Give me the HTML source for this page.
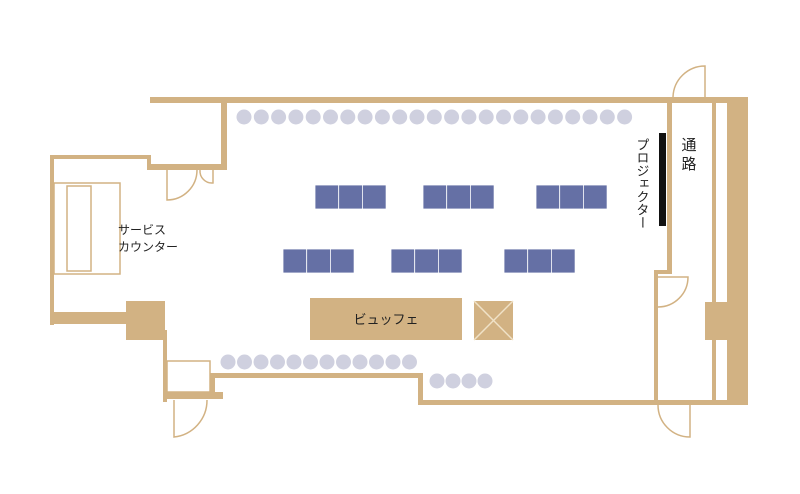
<!DOCTYPE html>
<html><head><meta charset="utf-8"><style>
body{margin:0;background:#fff}
svg{display:block}
text{font-family:"Liberation Sans","Noto Sans CJK JP",sans-serif}
</style></head><body>
<svg width="800" height="494" viewBox="0 0 800 494">
<g fill="#d2b283">
<rect x="150" y="97" width="598" height="6"/>
<rect x="221" y="97" width="6" height="72"/>
<rect x="147" y="164" width="80" height="6"/>
<rect x="147" y="155" width="4" height="14"/>
<rect x="50" y="155" width="101" height="4"/>
<rect x="50" y="155" width="4" height="170"/>
<rect x="50" y="312" width="80" height="12"/>
<rect x="126" y="301" width="39" height="39"/>
<rect x="163" y="330" width="4" height="72"/>
<rect x="163" y="392" width="60" height="7"/>
<rect x="210" y="373" width="5" height="22"/>
<rect x="210" y="373" width="213" height="5"/>
<rect x="418" y="373" width="5" height="32"/>
<rect x="418" y="400" width="330" height="5"/>
<rect x="667" y="97" width="5" height="177"/>
<rect x="654" y="270" width="18" height="4"/>
<rect x="654" y="270" width="4" height="134"/>
<rect x="712" y="97" width="4" height="305"/>
<rect x="727" y="97" width="21" height="308"/>
<rect x="705" y="302" width="22" height="38"/>
<rect x="310" y="298" width="152" height="42"/>
<rect x="474" y="301" width="39" height="39"/>
</g>
<g fill="none" stroke="#d2b283" stroke-width="1.5">
<rect x="54" y="183" width="66" height="91"/>
<rect x="67" y="186" width="24" height="85"/>
<line x1="474" y1="301" x2="513" y2="340" stroke="#f0e2c8"/>
<line x1="513" y1="301" x2="474" y2="340" stroke="#f0e2c8"/>
<rect x="167" y="361" width="43" height="31"/>
<path d="M167 170 V200 A30 30 0 0 0 197 170"/>
<path d="M213 170 V183 A12 12 0 0 1 200 170"/>
<path d="M174 400 V437 A37 37 0 0 0 207 400"/>
<path d="M705 97 V66 A32 32 0 0 0 673 97"/>
<path d="M658 277 H688 A30 30 0 0 1 658 307"/>
<path d="M690 405 V437 A32 32 0 0 1 658 405"/>
</g>
<g fill="#6570a5" stroke="#fff" stroke-width="0.8">
<rect x="315" y="185" width="23.7" height="24"/><rect x="338.7" y="185" width="23.7" height="24"/><rect x="362.4" y="185" width="23.7" height="24"/>
<rect x="423" y="185" width="23.7" height="24"/><rect x="446.7" y="185" width="23.7" height="24"/><rect x="470.4" y="185" width="23.7" height="24"/>
<rect x="536" y="185" width="23.7" height="24"/><rect x="559.7" y="185" width="23.7" height="24"/><rect x="583.4" y="185" width="23.7" height="24"/>
<rect x="283" y="249" width="23.7" height="24"/><rect x="306.7" y="249" width="23.7" height="24"/><rect x="330.4" y="249" width="23.7" height="24"/>
<rect x="391" y="249" width="23.7" height="24"/><rect x="414.7" y="249" width="23.7" height="24"/><rect x="438.4" y="249" width="23.7" height="24"/>
<rect x="504" y="249" width="23.7" height="24"/><rect x="527.7" y="249" width="23.7" height="24"/><rect x="551.4" y="249" width="23.7" height="24"/>
</g>
<rect x="659" y="133" width="7" height="93" fill="#111"/>
<g fill="#cfd0df">
<circle cx="244" cy="117" r="7.5"/><circle cx="261.3" cy="117" r="7.5"/><circle cx="278.6" cy="117" r="7.5"/><circle cx="295.9" cy="117" r="7.5"/><circle cx="313.2" cy="117" r="7.5"/><circle cx="330.5" cy="117" r="7.5"/><circle cx="347.8" cy="117" r="7.5"/><circle cx="365.1" cy="117" r="7.5"/><circle cx="382.4" cy="117" r="7.5"/><circle cx="399.7" cy="117" r="7.5"/><circle cx="417" cy="117" r="7.5"/><circle cx="434.3" cy="117" r="7.5"/><circle cx="451.6" cy="117" r="7.5"/><circle cx="468.9" cy="117" r="7.5"/><circle cx="486.2" cy="117" r="7.5"/><circle cx="503.5" cy="117" r="7.5"/><circle cx="520.8" cy="117" r="7.5"/><circle cx="538.1" cy="117" r="7.5"/><circle cx="555.4" cy="117" r="7.5"/><circle cx="572.7" cy="117" r="7.5"/><circle cx="590" cy="117" r="7.5"/><circle cx="607.3" cy="117" r="7.5"/><circle cx="624.6" cy="117" r="7.5"/>
<circle cx="228" cy="362" r="7.5"/><circle cx="244.5" cy="362" r="7.5"/><circle cx="261" cy="362" r="7.5"/><circle cx="277.5" cy="362" r="7.5"/><circle cx="294" cy="362" r="7.5"/><circle cx="310.5" cy="362" r="7.5"/><circle cx="327" cy="362" r="7.5"/><circle cx="343.5" cy="362" r="7.5"/><circle cx="360" cy="362" r="7.5"/><circle cx="376.5" cy="362" r="7.5"/><circle cx="393" cy="362" r="7.5"/><circle cx="409.5" cy="362" r="7.5"/>
<circle cx="437" cy="381" r="7.5"/><circle cx="453" cy="381" r="7.5"/><circle cx="469" cy="381" r="7.5"/><circle cx="485" cy="381" r="7.5"/>
</g>
<text x="118" y="234" font-size="12" fill="#222">サービス</text>
<text x="118" y="251" font-size="12" fill="#222">カウンター</text>
<text x="386" y="324" font-size="13" fill="#222" text-anchor="middle">ビュッフェ</text>
<text x="689" y="150" font-size="15" fill="#222" text-anchor="middle">通</text>
<text x="689" y="169" font-size="15" fill="#222" text-anchor="middle">路</text>
<text x="642" y="138" font-size="13" fill="#222" style="writing-mode:vertical-rl" transform="rotate(0)">プロジェクター</text>
</svg>
</body></html>
